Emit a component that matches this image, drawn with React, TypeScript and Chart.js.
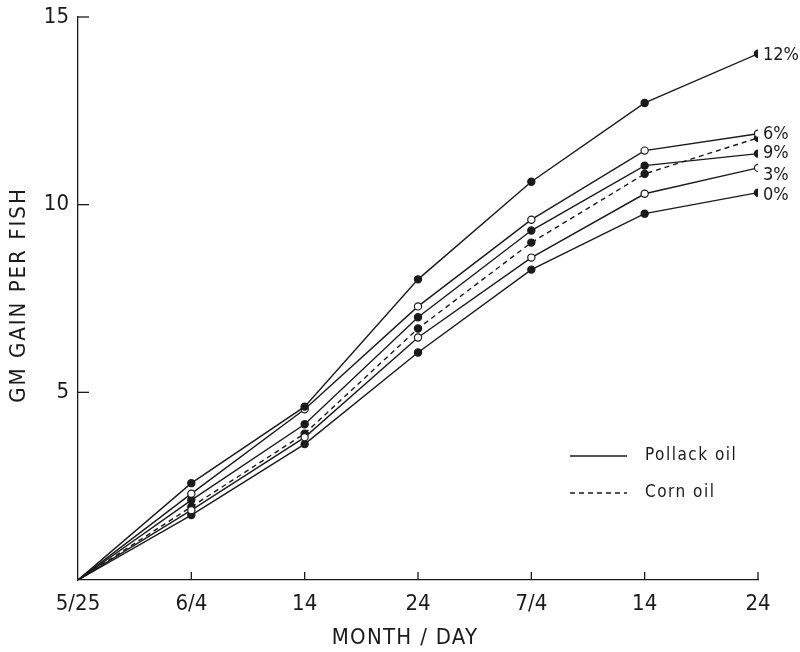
import React, { useEffect, useRef } from "react";
import { Chart, registerables } from "chart.js";

Chart.register(...registerables);

// Days after 5/25
const days = [0, 10, 20, 30, 40, 50, 60];
const xTickLabels = ["5/25", "6/4", "14", "24", "7/4", "14", "24"];
const yTicks = [0, 5, 10, 15];

const pollack12 = [0, 2.58, 4.62, 8.01, 10.61, 12.71, 14.02];
const pollack6 = [0, 2.3, 4.55, 7.29, 9.6, 11.44, 11.89];
const pollack9 = [0, 2.13, 4.15, 7.0, 9.31, 11.04, 11.36];
const pollack3 = [0, 1.86, 3.8, 6.46, 8.59, 10.29, 10.98];
const pollack0 = [0, 1.73, 3.62, 6.06, 8.27, 9.76, 10.32];
const cornOil = [0, 1.95, 3.9, 6.7, 8.99, 10.82, 11.78];

const seriesLabels = ["12%", "6%", "9%", "3%", "0%", ""];
const legendLabels = ["Pollack oil", "Corn oil"];
const xTitle = "MONTH / DAY";
const yTitle = "GM GAIN PER FISH";

const FONT = "'DejaVu Sans Condensed', 'DejaVu Sans', sans-serif";
const INK = "#1a1a1a";

export default function App() {
  const ref = useRef<HTMLCanvasElement | null>(null);

  useEffect(() => {
    document.body.style.margin = "0";
    const canvas = ref.current;
    if (!canvas) return;

    const mk = (vals: number[], open: boolean, dashed: boolean, label: string) => ({
      label,
      data: days.map((d, i) => ({ x: d, y: vals[i] })),
      borderColor: INK,
      borderWidth: 1.4,
      borderDash: dashed ? [5, 4] : [],
      backgroundColor: open ? "#ffffff" : INK,
      pointBackgroundColor: open ? "#ffffff" : INK,
      pointBorderColor: INK,
      pointBorderWidth: 1.2,
      pointRadius: days.map((d) => (d === 0 ? 0 : 3.6)),
      fill: false,
      tension: 0,
    });

    const datasets = [
      mk(pollack12, false, false, seriesLabels[0]),
      mk(pollack6, true, false, seriesLabels[1]),
      mk(pollack9, false, false, seriesLabels[2]),
      mk(pollack3, true, false, seriesLabels[3]),
      mk(pollack0, false, false, seriesLabels[4]),
      mk(cornOil, false, true, seriesLabels[5]),
    ];

    const labelDy = [2, 1, 0, 7, 3, 0];

    const setSpacing = (ctx: any, v: string) => {
      try { ctx.letterSpacing = v; } catch (e) {}
    };

    const decor = {
      id: "decor",
      afterDraw(chart: any) {
        const ctx = chart.ctx;
        const xs = chart.scales.x;
        const ys = chart.scales.y;
        const area = chart.chartArea;
        ctx.save();
        ctx.strokeStyle = INK;
        ctx.lineWidth = 1.3;
        // inward ticks
        days.forEach((d) => {
          if (d === 0) return;
          const px = xs.getPixelForValue(d);
          ctx.beginPath();
          ctx.moveTo(px, area.bottom);
          ctx.lineTo(px, area.bottom - 8);
          ctx.stroke();
        });
        yTicks.forEach((v) => {
          if (v === 0) return;
          const py = ys.getPixelForValue(v);
          ctx.beginPath();
          ctx.moveTo(area.left, py);
          ctx.lineTo(area.left + 11, py);
          ctx.stroke();
        });
        // end labels
        ctx.fillStyle = INK;
        ctx.font = `18px ${FONT}`;
        ctx.textAlign = "left";
        ctx.textBaseline = "middle";
        setSpacing(ctx, "0px");
        chart.data.datasets.forEach((ds: any, i: number) => {
          if (!ds.label) return;
          const last = ds.data[ds.data.length - 1];
          const px = xs.getPixelForValue(last.x);
          const py = ys.getPixelForValue(last.y);
          ctx.fillText(ds.label, px + 5, py + labelDy[i]);
        });
        // legend
        const lx0 = area.left + 492;
        const lx1 = area.left + 549;
        const tx = area.left + 567;
        const ly = [area.top + 439, area.top + 476];
        ctx.font = `17px ${FONT}`;
        setSpacing(ctx, "1.5px");
        legendLabels.forEach((t, i) => {
          ctx.setLineDash(i === 1 ? [5, 4] : []);
          ctx.beginPath();
          ctx.moveTo(lx0, ly[i]);
          ctx.lineTo(lx1, ly[i]);
          ctx.stroke();
          ctx.fillText(t, tx, ly[i]);
        });
        ctx.setLineDash([]);
        // axis titles
        ctx.font = `22px ${FONT}`;
        setSpacing(ctx, "1.3px");
        ctx.textAlign = "center";
        ctx.fillText(xTitle, 405, 638);
        setSpacing(ctx, "2px");
        ctx.save();
        ctx.translate(19, 295);
        ctx.rotate(-Math.PI / 2);
        ctx.fillText(yTitle, 0, 0);
        ctx.restore();
        ctx.restore();
      },
    };

    const chart = new Chart(canvas, {
      type: "line",
      data: { datasets: datasets as any },
      options: {
        animation: false,
        responsive: false,
        maintainAspectRatio: false,
        layout: { padding: { left: 0, top: 17, right: 42, bottom: 0 } },
        plugins: { legend: { display: false }, tooltip: { enabled: false } },
        scales: {
          x: {
            type: "linear",
            min: 0,
            max: 60,
            afterBuildTicks: (s: any) => {
              s.ticks = days.map((d) => ({ value: d }));
            },
            afterFit: (s: any) => {
              s.height = 72;
              s.paddingLeft = 0;
              s.paddingRight = 0;
            },
            ticks: {
              color: INK,
              font: { family: FONT, size: 22 },
              padding: 11,
              maxRotation: 0,
              autoSkip: false,
              callback: (v: any) => {
                const i = days.indexOf(Number(v));
                return i >= 0 ? xTickLabels[i] : "";
              },
            },
            grid: { display: true, drawOnChartArea: false, drawTicks: false, color: INK },
            border: { display: true, color: INK, width: 1.3 },
            title: { display: false },
          },
          y: {
            type: "linear",
            min: 0,
            max: 15,
            afterBuildTicks: (s: any) => {
              s.ticks = yTicks.map((v) => ({ value: v }));
            },
            afterFit: (s: any) => {
              s.width = 78;
              s.paddingTop = 0;
              s.paddingBottom = 0;
            },
            ticks: {
              color: INK,
              font: { family: FONT, size: 22 },
              padding: 9,
              callback: (v: any) => (Number(v) === 0 ? "" : String(v)),
            },
            grid: { display: true, drawOnChartArea: false, drawTicks: false, color: INK },
            border: { display: true, color: INK, width: 1.3 },
            title: { display: false },
          },
        },
      },
      plugins: [decor],
    });

    return () => chart.destroy();
  }, []);

  return (
    <div style={{ width: 800, height: 652, background: "#fff" }}>
      <canvas ref={ref} width={800} height={652} style={{ display: "block" }} />
    </div>
  );
}
